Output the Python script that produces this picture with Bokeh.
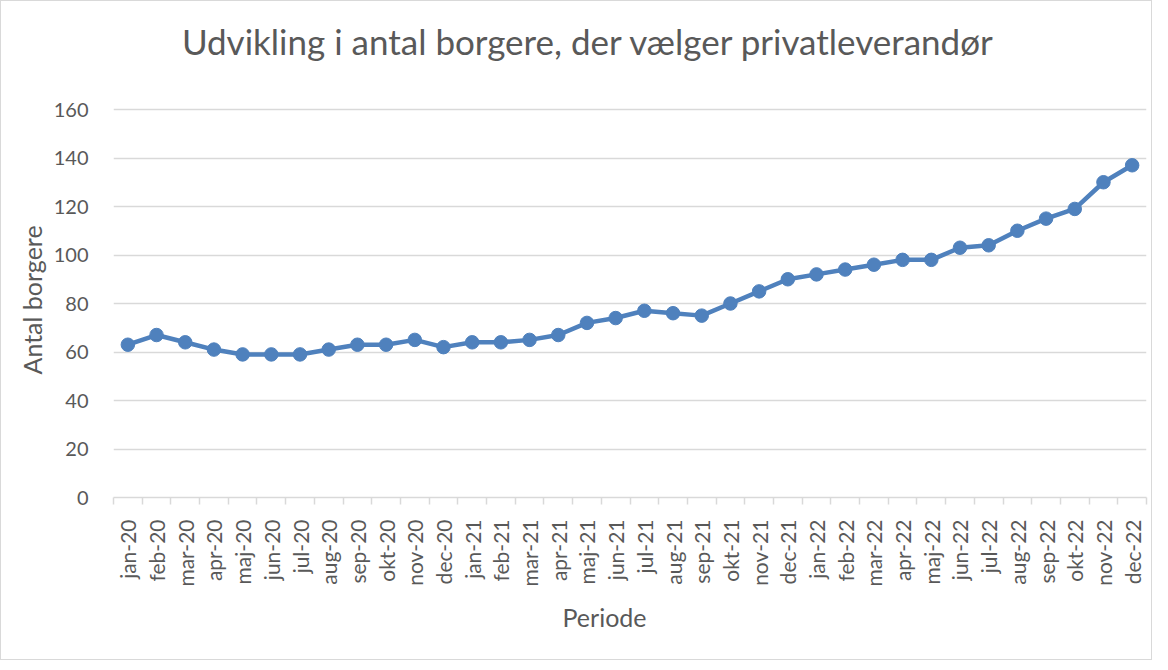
import math
from bokeh.plotting import figure
from bokeh.models import FixedTicker, Range1d, ColumnDataSource, Label, Title
from bokeh.embed import file_html
from bokeh.resources import INLINE

months = ["jan-20", "feb-20", "mar-20", "apr-20", "maj-20", "jun-20", "jul-20", "aug-20",
          "sep-20", "okt-20", "nov-20", "dec-20", "jan-21", "feb-21", "mar-21", "apr-21",
          "maj-21", "jun-21", "jul-21", "aug-21", "sep-21", "okt-21", "nov-21", "dec-21",
          "jan-22", "feb-22", "mar-22", "apr-22", "maj-22", "jun-22", "jul-22", "aug-22",
          "sep-22", "okt-22", "nov-22", "dec-22"]
values = [63, 67, 64, 61, 59, 59, 59, 61, 63, 63, 65, 62, 64, 64, 65, 67,
          72, 74, 77, 76, 75, 80, 85, 90, 92, 94, 96, 98, 98, 103, 104, 110,
          115, 119, 130, 137]
y_ticks = [0, 20, 40, 60, 80, 100, 120, 140, 160]

title_text = "Udvikling i antal borgere, der vælger privatleverandør"
x_label = "Periode"
y_label = "Antal borgere"

FONT = "Lato"
TXT = "#595959"
GRID = "#d9d9d9"
BLUE = "#4f81bd"

# layout (pixels inside the 1152x660 figure)
FRAME_TOP, FRAME_BOTTOM, AXIS_TOP_PX = 20, 496, 108
y_max = y_ticks[-1] * (FRAME_BOTTOM - FRAME_TOP) / (FRAME_BOTTOM - AXIS_TOP_PX)

idx = list(range(len(months)))
src = ColumnDataSource(dict(x=idx, y=values))

p = figure(width=1152, height=660, output_backend="svg", toolbar_location=None,
           x_range=Range1d(-0.5, len(months) - 0.5), y_range=Range1d(0, y_max),
           min_border_left=112, min_border_right=7, min_border_top=FRAME_TOP,
           min_border_bottom=660 - FRAME_BOTTOM)

# chart title (screen units relative to the plot frame)
p.add_layout(Label(x=475, y=FRAME_BOTTOM - 39, x_units="screen", y_units="screen", text=title_text,
                   text_align="center", text_baseline="middle", text_font=FONT,
                   text_font_size="35px", text_color=TXT))

# axis titles
xt = Title(text=x_label, align="left", offset=449, text_font=FONT, text_font_size="25px",
           text_font_style="normal", text_color=TXT, standoff=21)
p.add_layout(xt, "below")
yt = Title(text=y_label, align="left", offset=123, text_font=FONT, text_font_size="25px",
           text_font_style="normal", text_color=TXT, standoff=8)
p.add_layout(yt, "left")

p.line("x", "y", source=src, line_color=BLUE, line_width=4.5)
p.scatter("x", "y", source=src, size=13.5, fill_color=BLUE, line_color=BLUE)

# x axis
p.xaxis.ticker = FixedTicker(ticks=idx, minor_ticks=[i - 0.5 for i in range(len(months) + 1)])
p.xaxis.major_label_overrides = {i: m for i, m in enumerate(months)}
p.xaxis.major_label_orientation = math.pi / 2
p.xaxis.major_tick_line_color = None
p.xaxis.minor_tick_line_color = GRID
p.xaxis.minor_tick_line_width = 1.5
p.xaxis.minor_tick_in = 0
p.xaxis.minor_tick_out = 7
p.xaxis.axis_line_color = GRID
p.xaxis.axis_line_width = 1.5
p.xaxis.major_label_text_font = FONT
p.xaxis.major_label_text_font_size = "21px"
p.xaxis.major_label_text_color = TXT
p.xaxis.major_label_standoff = 15

# y axis
p.yaxis.ticker = FixedTicker(ticks=y_ticks)
p.yaxis.axis_line_color = None
p.yaxis.major_tick_line_color = None
p.yaxis.minor_tick_line_color = None
p.yaxis.major_label_text_font = FONT
p.yaxis.major_label_text_font_size = "20px"
p.yaxis.major_label_text_color = TXT
p.yaxis.major_label_standoff = 19

p.xgrid.grid_line_color = None
p.ygrid.grid_line_color = GRID
p.ygrid.grid_line_width = 1.5
p.outline_line_color = None
p.styles = {"border": "1px solid #d9d9d9"}

open("out.html", "w").write(file_html(p, INLINE))
